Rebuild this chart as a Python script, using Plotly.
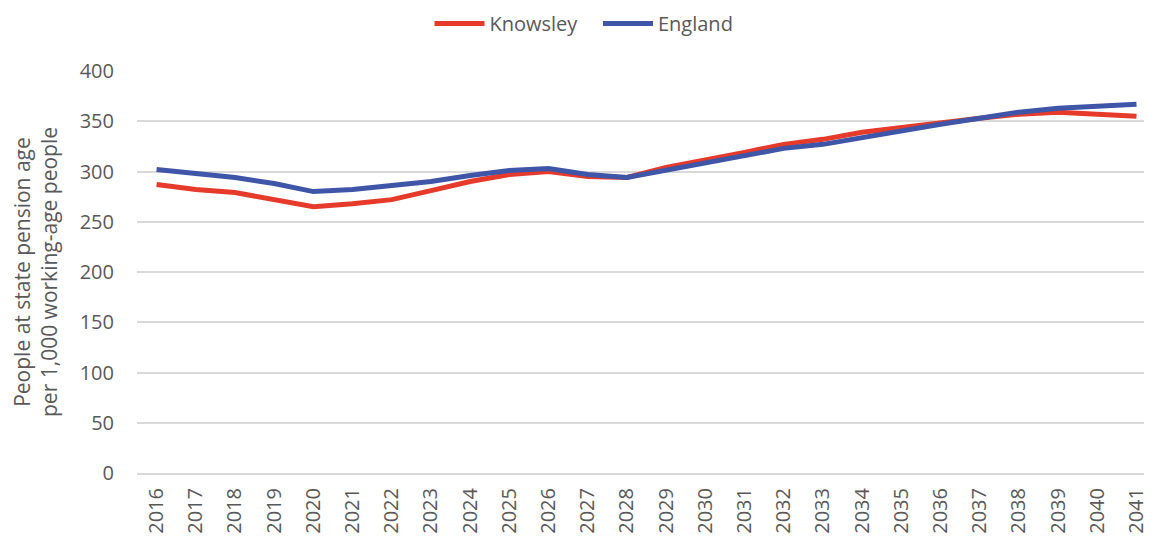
import plotly.graph_objects as go

years = [str(y) for y in range(2016, 2042)]
knowsley = [287, 282, 279, 272, 265, 268, 272, 281, 290, 297, 300, 295, 294, 304, 311, 319, 327, 332, 339, 344, 348, 353, 357, 359, 357, 355]
england = [302, 298, 294, 288, 280, 282, 286, 290, 296, 301, 303, 297, 294, 301, 308, 316, 323, 327, 334, 341, 347, 353, 359, 363, 365, 367]

FONT = "Open Sans"
GREY = "#595959"

fig = go.Figure()
fig.add_trace(go.Scatter(x=years, y=knowsley, name="Knowsley\u00a0\u00a0\u00a0", mode="lines",
                         line=dict(color="#E63A2A", width=5)))
fig.add_trace(go.Scatter(x=years, y=england, name="England", mode="lines",
                         line=dict(color="#3F56A8", width=5)))

fig.update_layout(
    width=1152, height=540,
    margin=dict(l=129, r=0, t=63, b=75, autoexpand=False),
    paper_bgcolor="white", plot_bgcolor="white",
    font=dict(family=FONT, color=GREY, size=20),
    legend=dict(orientation="h", x=0.5, xanchor="center", xref="container",
                y=1.118, yanchor="middle", yref="paper",
                font=dict(size=20, color=GREY),
                itemwidth=50, traceorder="normal"),
    showlegend=True,
)

fig.update_xaxes(type="category", range=[-0.5, 25.6], tickangle=-90, automargin=False,
                 showgrid=False, showline=True, linecolor="#d9d9d9", linewidth=2,
                 ticks="", tickfont=dict(size=20, color=GREY), ticklabelstandoff=5)
fig.update_yaxes(range=[0, 400], dtick=50, showgrid=True, gridcolor="#d9d9d9", gridwidth=2,
                 zeroline=False, showline=False, ticks="", automargin=False,
                 tickfont=dict(size=20, color=GREY), ticklabelstandoff=22,
                 title=dict(text="People at state pension age<br>per 1,000 working-age people",
                            font=dict(size=21, color=GREY), standoff=16))

fig.write_html("out.html")
